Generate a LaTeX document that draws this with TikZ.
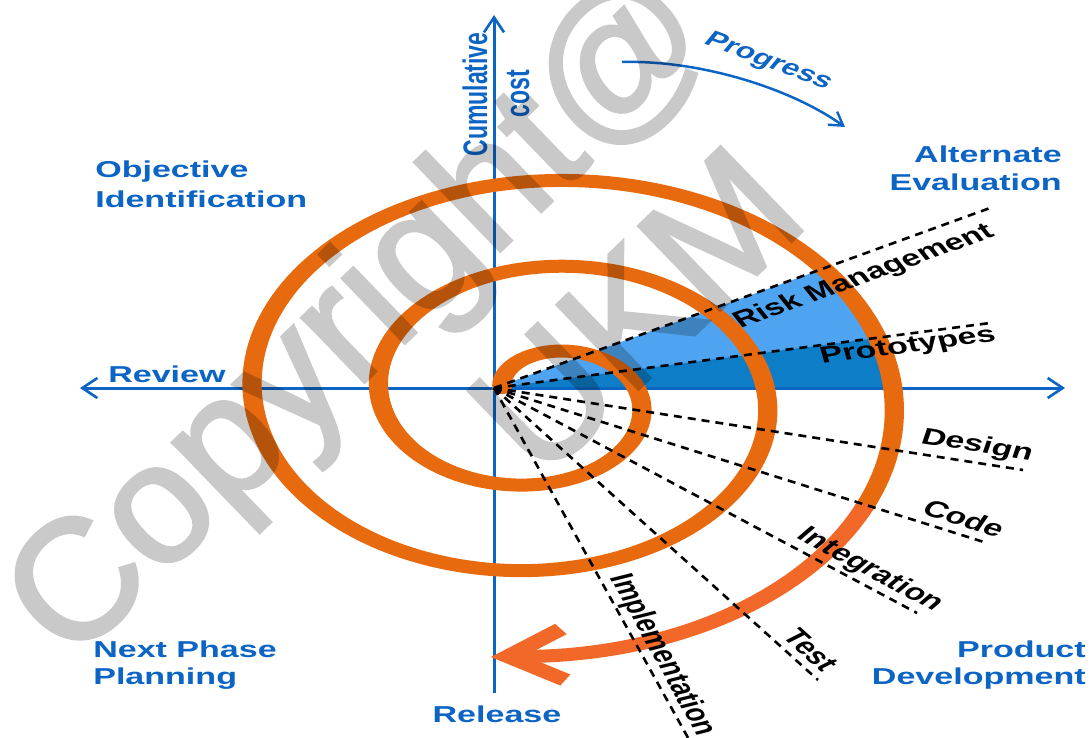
\documentclass[tikz,border=0pt]{standalone}
\usepackage{fontspec}
\setmainfont{Liberation Sans}
\newfontfamily\stampfont[FakeBold=2]{Liberation Sans}
\usetikzlibrary{arrows.meta}

\definecolor{axisblue}{RGB}{12,100,196}
\definecolor{spiralorange}{RGB}{232,106,14}
\definecolor{tailorange}{RGB}{242,104,40}
\definecolor{wedgelight}{RGB}{78,164,240}
\definecolor{wedgedark}{RGB}{13,125,199}

\begin{document}
\begin{tikzpicture}[x=1pt,y=-1pt,
  wide/.style={xscale=1.48, inner sep=0pt},
  quadrant/.style={wide, text=axisblue, font=\fontsize{23}{29}\selectfont\bfseries},
  phase/.style={wide, text=black, font=\fontsize{23}{29}\selectfont\bfseries},
  axisline/.style={draw=axisblue, line width=3pt,
    -{Straight Barb[length=15pt,width=20pt,line width=2.6pt]}},
  ray/.style={draw=black, line width=2.6pt, dash pattern=on 8pt off 6pt},
  coil/.style={line width=13pt, line cap=round},
  stamp/.style={text=black, inner sep=0pt,
    font=\stampfont\fontsize{170}{200}\selectfont}
]
\useasboundingbox (0,0) rectangle (1091,738);
\fill[white] (0,0) rectangle (1091,738);

% origin and axis ends
\coordinate (O) at (494,388);
\coordinate (west) at (80,388);
\coordinate (east) at (1065,388);
\coordinate (south) at (494,693);
\coordinate (north) at (494,15);

% shaded risk / prototype sectors, bounded by the outer turn
\fill[wedgelight] (O) -- plot[domain=776:808, samples=40]
  ({541.5+(66.7+0.35256*\x)*sin(\x)}, {397-(44+0.23911*\x)*cos(\x)}) -- cycle;
\fill[wedgedark] (O) -- plot[domain=795.4:808, samples=20]
  ({541.5+(66.7+0.35256*\x)*sin(\x)}, {397-(44+0.23911*\x)*cos(\x)}) -- cycle;

% axes
\draw[axisline] (O) -- (west);
\draw[axisline] (O) -- (east);
\draw[axisline] (south) -- (north);

% the spiral, drawn in an unstretched frame and widened as a whole
\begin{scope}[transform canvas={xscale=1.48}]
  \draw[coil, spiralorange] plot[domain=-70:837, samples=450]
    ({365.9+(45.07+0.23822*\x)*sin(\x)}, {397-(44+0.23911*\x)*cos(\x)});
  \draw[coil, tailorange, line cap=butt] plot[domain=836:905, samples=40]
    ({365.9+(45.07+0.23822*\x)*sin(\x)}, {397-(44+0.23911*\x)*cos(\x)});
  \coordinate (tip) at (343.2,656.4);
  \coordinate (barbA) at (379,629);
  \coordinate (barbB) at (382,680);
  \draw[tailorange, line width=13pt, line join=miter] (barbA) -- (tip) -- (barbB);
\end{scope}

% activity rays
\coordinate (rRisk) at (990,208);
\coordinate (rProto) at (990,323);
\coordinate (rDesign) at (1023,470);
\coordinate (rCode) at (987,543);
\coordinate (rInteg) at (917,613);
\coordinate (rTest) at (818,680);
\coordinate (rImpl) at (692,745);
\foreach \e in {rRisk,rProto,rDesign,rCode,rInteg,rTest,rImpl}
  \draw[ray] (O) -- (\e);

% activity labels
\node[phase, rotate=28.2] (lRisk) at (864,277) {Risk Management};
\node[phase, rotate=11] (lProto) at (908,347) {Prototypes};
\node[phase, rotate=-12.9] (lDesign) at (977,446) {Design};
\node[phase, rotate=-24.9] (lCode) at (964,518) {Code};
\node[phase, rotate=-38.2] (lInteg) at (870,570) {Integration};
\node[phase, rotate=-53.1] (lTest) at (811,650) {Test};
\node[phase, rotate=-69.6] (lImpl) at (662,655) {Implementation};

% quadrant and axis labels
\node[quadrant, anchor=base west] (obj1) at (95,178) {Objective};
\node[quadrant, anchor=base west] (obj2) at (95,207) {Identification};
\node[quadrant, anchor=base east] (alt1) at (1062,163) {Alternate};
\node[quadrant, anchor=base east] (alt2) at (1062,190) {Evaluation};
\node[quadrant, anchor=base west] (rev) at (108,382) {Review};
\node[quadrant, anchor=base west] (next1) at (93,657) {Next Phase};
\node[quadrant, anchor=base west] (next2) at (93,684) {Planning};
\node[quadrant, anchor=base east] (prod1) at (1086,657) {Product};
\node[quadrant, anchor=base east] (prod2) at (1086,684) {Development};
\node[quadrant, anchor=base] (rel) at (497,722) {Release};
\node[quadrant, rotate=90, anchor=base] (cum) at (487,94.5) {Cumulative};
\node[quadrant, rotate=90, anchor=base] (cost) at (529,93.5) {cost};

% progress arrow
\coordinate (p0) at (622,62);
\coordinate (p1) at (845,127);
\draw[axisblue, line width=2.5pt, -{Straight Barb[length=13pt,width=16pt,line width=2.4pt]}]
  (p0) .. controls (700,60) and (790,88) .. (p1);
\node[quadrant, rotate=-29, font=\fontsize{22}{26}\selectfont\bfseries] (prog) at (768,62) {Progress};

% watermark, flattened so overlapping glyph outlines do not show
\begin{scope}[transparency group, opacity=0.21]
  \node[stamp, rotate=44, anchor=base west] (mark1) at (70.5,666) {Copyright@};
  \node[stamp, rotate=44, anchor=base west] (mark2) at (540,484) {UKM};
\end{scope}
\end{tikzpicture}
\end{document}
